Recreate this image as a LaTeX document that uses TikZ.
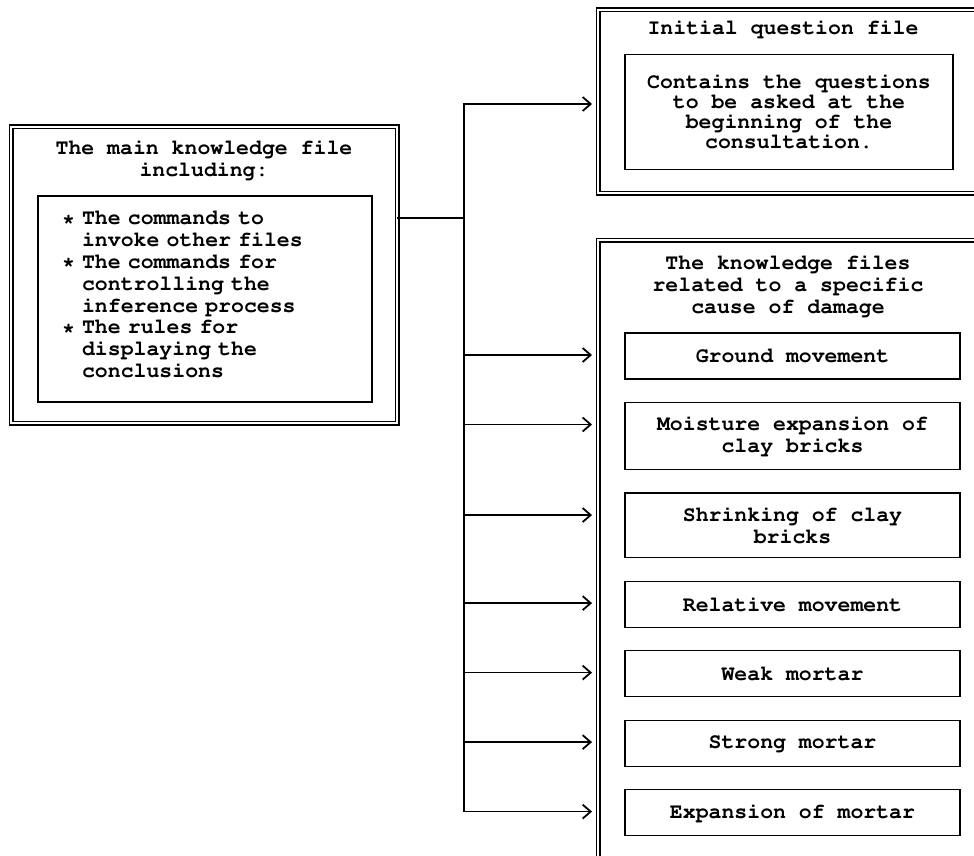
\documentclass[tikz,border=0pt]{standalone}
\usepackage[T1]{fontenc}
\usetikzlibrary{arrows.meta,positioning}
\newcommand{\kbfont}{\fontencoding{T1}\fontfamily{pcr}\fontseries{b}\fontsize{21.5pt}{21.8pt}\selectfont}

\begin{document}
\begin{tikzpicture}[x=1pt, y=-1pt,
	every node/.style = {font=\kbfont, inner sep=0pt, outer sep=0pt},
	filebox/.style = {draw, line width=1.3pt, double, double distance=2.4pt, anchor=north west},
	innerbox/.style = {draw, line width=1.2pt},
	causebox/.style = {innerbox, align=center, minimum width=335pt, minimum height=46pt, inner ysep=14pt},
	fork/.style = {line width=1.3pt, -{Straight Barb[length=8pt, width=14pt, line width=1.8pt]}, shorten >=6pt}]
	\useasboundingbox (0,0) rectangle (974,856);
	\clip (0,0) rectangle (974,856);

	% main knowledge file
	\node[filebox, minimum width=386pt, minimum height=296pt] (main) at (11,127) {};
	\node[align=center] (maintitle) at (204,160) {The main knowledge file\\including:};
	\node[innerbox, anchor=north west, minimum width=334pt, minimum height=206pt,
		text width=286pt, inner xsep=24pt, align=left] (mainlist) at (38,196) {%
		{*}~The commands to\\
		\phantom{*~}invoke other files\\
		{*}~The commands for\\
		\phantom{*~}controlling the\\
		\phantom{*~}inference process\\
		{*}~The rules for\\
		\phantom{*~}displaying the\\
		\phantom{*~}conclusions\rule[-9pt]{0pt}{0pt}};

	% initial question file
	\node[filebox, minimum width=420pt, minimum height=183pt] (initq) at (598,10) {};
	\node (initqtitle) at (783,29) {Initial question file};
	\node[innerbox, align=center, minimum width=328pt, minimum height=115pt,
		font=\kbfont\fontsize{21.5pt}{20pt}\selectfont] (initqtext) at (789,112)
		{Contains the questions\\to be asked at the\\beginning of the\\consultation.};

	% knowledge files per cause
	\node[filebox, minimum width=420pt, minimum height=680pt] (kfiles) at (598,240) {};
	\node[align=center] (kfilestitle) at (788,286)
		{The knowledge files\\related to a specific\\cause of damage};
	\node[causebox, anchor=north] (ground) at (792.5,333) {Ground movement};
	\node[causebox, below=23.5pt of ground] (moist) {Moisture expansion of\\clay bricks};
	\node[causebox, below=23.5pt of moist] (shrink) {Shrinking of clay\\bricks};
	\node[causebox, below=23.5pt of shrink] (relmove) {Relative movement};
	\node[causebox, below=23.5pt of relmove] (weak) {Weak mortar};
	\node[causebox, below=23.5pt of weak] (strong) {Strong mortar};
	\node[causebox, below=23.5pt of strong] (expmortar) {Expansion of mortar};

	% connections
	\coordinate (split) at (464,218);
	\draw[line width=1.3pt] (main.east |- split) -- (split);
	\draw[fork] (split) |- ([yshift=-2.5pt]initq.west);
	\foreach \f in {ground, moist, shrink, relmove, weak, strong, expmortar}
		\draw[fork] (split) |- ([yshift=-22pt]\f.north -| kfiles.west);
\end{tikzpicture}
\end{document}
